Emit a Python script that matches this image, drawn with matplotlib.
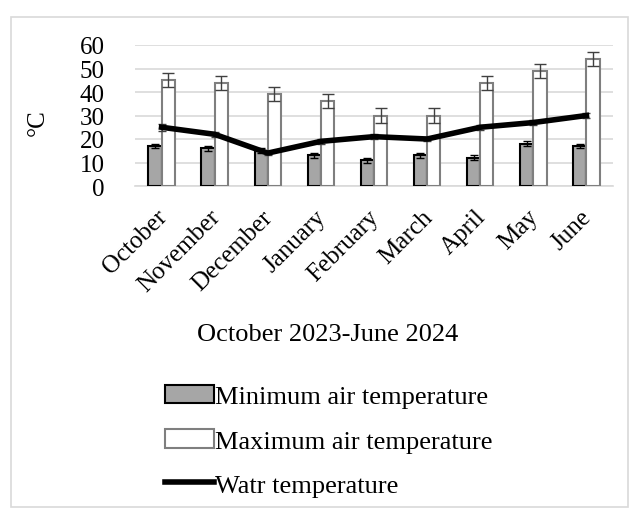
import matplotlib.pyplot as plt
from matplotlib.patches import Rectangle
from matplotlib.transforms import ScaledTranslation
import numpy as np

months = ["October", "November", "December", "January", "February",
          "March", "April", "May", "June"]
min_air = [17, 16, 15, 13, 11, 13, 12, 18, 17]
max_air = [45, 44, 39, 36, 30, 30, 44, 49, 54]
max_err = [3, 3, 3, 3, 3, 3, 3, 3, 3]
min_err = [1, 1, 1, 1, 1, 1, 1, 1, 1]
water = [25, 22, 14, 19, 21, 20, 25, 27, 30]
water_err = [1.5, 1, 1, 1, 1, 1, 1, 1, 1]

plt.rcParams['font.family'] = ['Liberation Serif', 'DejaVu Serif']

fig = plt.figure(figsize=(6.3, 5.1), dpi=100)
ax = fig.add_axes([135 / 630, 1 - 187 / 510, 478 / 630, 141 / 510])

x = np.arange(len(months))
w = 0.25
b1 = ax.bar(x - w / 2, min_air, w, color='#a6a6a6', edgecolor='black',
            linewidth=1.5, label='Minimum air temperature', zorder=3)
ax.errorbar(x - w / 2, min_air, yerr=min_err, fmt='none', ecolor='black',
            elinewidth=1, capsize=3, zorder=4)
b2 = ax.bar(x + w / 2, max_air, w, color='white', edgecolor='#7f7f7f',
            linewidth=1.5, label='Maximum air temperature', zorder=3)
ax.errorbar(x + w / 2, max_air, yerr=max_err, fmt='none', ecolor='#404040',
            elinewidth=1, capsize=4, zorder=4)
ax.errorbar(x, water, yerr=water_err, fmt='none', ecolor='#404040',
            elinewidth=1, capsize=3, zorder=5)
l1, = ax.plot(x, water, color='black', linewidth=4, label='Watr temperature',
              zorder=6)

ax.set_xlim(-0.5, len(months) - 0.5)
ax.set_ylim(0, 60)
ax.set_yticks(range(0, 61, 10))
ax.yaxis.grid(True, color='#d9d9d9', linewidth=1.2)
ax.set_axisbelow(True)
for s in ['top', 'right', 'left']:
    ax.spines[s].set_visible(False)
ax.spines['bottom'].set_color('#d9d9d9')
ax.spines['bottom'].set_linewidth(1.2)
ax.tick_params(length=0, labelsize=18)
ax.tick_params(axis='y', pad=22)
ax.set_xticks(x)
ax.set_xticklabels(months, rotation=45, ha='right', rotation_mode='anchor')
ax.tick_params(axis='x', pad=14)
# nudge the slanted month names a little to the left
shift = ScaledTranslation(-6 / 100, 0, fig.dpi_scale_trans)
for t in ax.get_xticklabels():
    t.set_transform(t.get_transform() + shift)

ax.set_ylabel('°C', fontsize=18)
ax.yaxis.set_label_coords((49 - 135) / 478, 0.46)
fig.text(328 / 630, 1 - 335 / 510, 'October 2023-June 2024', fontsize=19,
         ha='center', va='center')

fig.legend(handles=[b1, b2, l1], loc='upper left',
           bbox_to_anchor=(165 / 630, 1 - 386 / 510),
           frameon=False, fontsize=19, handlelength=1.85, handletextpad=0.05,
           labelspacing=0.78, borderpad=0, borderaxespad=0)

fig.patches.append(Rectangle((11 / 630, 2 / 510), 617 / 630, 490 / 510,
                             transform=fig.transFigure, fill=False,
                             edgecolor='#d9d9d9', linewidth=1.2))

fig.savefig('out.png', dpi=100)
